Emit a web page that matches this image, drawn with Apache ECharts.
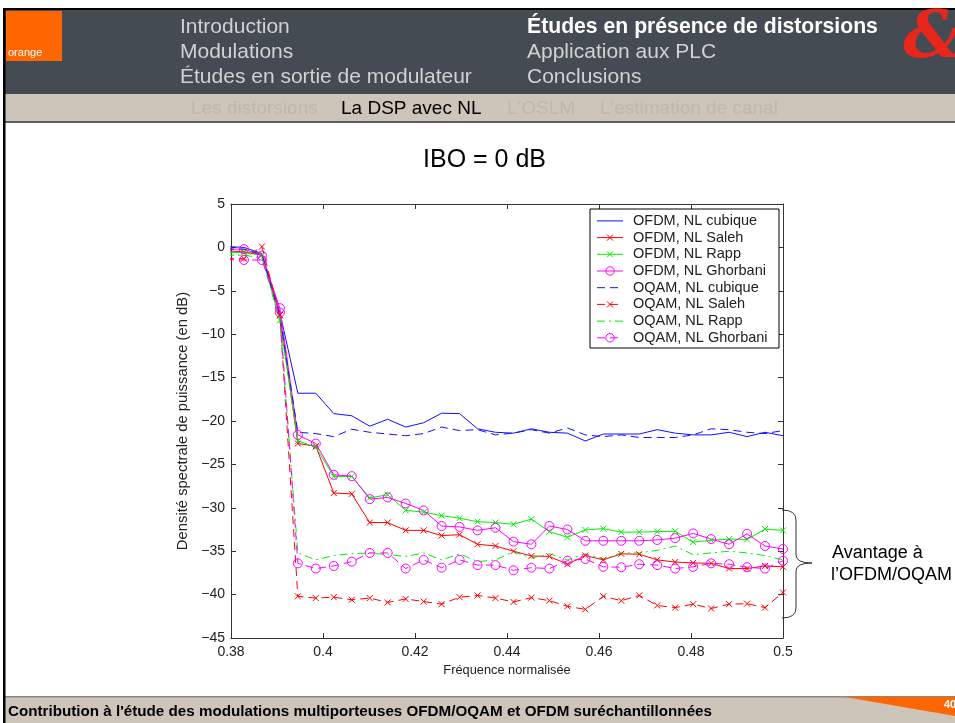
<!DOCTYPE html>
<html>
<head>
<meta charset="utf-8">
<script src="https://cdn.jsdelivr.net/npm/echarts@6/dist/echarts.min.js"></script>
<style>html,body{margin:0;padding:0;background:#fff;overflow:hidden}#c{width:955px;height:723px}</style>
</head>
<body>
<div id="c"></div>
<script>
// ---------- data ----------
const freq = [0.37891, 0.38281, 0.38672, 0.39063, 0.39453, 0.39844, 0.40234, 0.40625,
  0.41016, 0.41406, 0.41797, 0.42188, 0.42578, 0.42969, 0.43359, 0.4375,
  0.44141, 0.44531, 0.44922, 0.45313, 0.45703, 0.46094, 0.46484, 0.46875,
  0.47266, 0.47656, 0.48047, 0.48438, 0.48828, 0.49219, 0.49609, 0.5];

const seriesNames = ['OFDM, NL cubique', 'OFDM, NL Saleh', 'OFDM, NL Rapp', 'OFDM, NL Ghorbani',
  'OQAM, NL cubique', 'OQAM, NL Saleh', 'OQAM, NL Rapp', 'OQAM, NL Ghorbani'];

const ofdmCubique = [0.1, 0.0, -0.7, -7.5, -16.8, -16.8, -19.15, -19.4, -20.6, -19.8, -20.7, -20.2, -19.1, -19.15,
  -20.9, -21.3, -21.4, -20.9, -21.3, -21.4, -22.3, -21.5, -21.5, -21.5, -21.0, -21.4, -21.6, -21.6, -21.3, -21.8, -21.3, -21.7];
const ofdmSaleh = [-0.4, -0.5, -0.9, -7.8, -22.6, -22.9, -28.3, -28.4, -31.7, -31.7, -32.6, -32.6, -33.2, -33.1,
  -34.2, -34.4, -35.0, -35.55, -35.6, -36.5, -35.5, -36.0, -35.3, -35.35, -36.0, -36.25, -36.35, -36.4, -37.0, -37.0, -36.7, -36.8];
const ofdmRapp = [-0.6, -0.6, -0.9, -8.4, -22.3, -23.0, -26.4, -26.4, -28.85, -28.5, -30.3, -30.5, -30.9, -31.2,
  -31.6, -31.7, -31.9, -31.3, -32.75, -33.4, -32.55, -32.4, -32.8, -32.8, -32.75, -32.7, -33.95, -33.75, -33.6, -33.65, -32.45, -32.6];
const ofdmGhorbani = [-0.2, -0.2, -0.95, -7.0, -21.6, -22.6, -26.2, -26.35, -29.0, -28.8, -29.5, -30.3, -32.1, -32.2,
  -32.6, -32.3, -33.9, -34.2, -32.1, -32.5, -33.8, -33.8, -33.8, -33.8, -33.7, -33.5, -32.95, -33.6, -34.2, -33.0, -34.4, -34.75];
const oqamCubique = [-0.2, -0.2, -0.8, -8.0, -21.3, -21.45, -21.8, -20.95, -21.3, -21.5, -21.7, -21.45, -20.7, -21.1,
  -21.0, -21.6, -21.4, -21.0, -21.4, -20.8, -21.6, -21.8, -21.6, -21.9, -21.9, -21.9, -21.6, -20.9, -21.0, -21.3, -21.45, -21.1];
const oqamSaleh = [-1.3, -1.3, 0.1, -7.8, -40.2, -40.4, -40.3, -40.6, -40.4, -40.9, -40.5, -40.8, -41.1, -40.3,
  -40.1, -40.4, -40.85, -40.35, -40.7, -41.35, -41.7, -40.2, -40.7, -40.1, -41.25, -41.5, -41.1, -41.6, -41.1, -41.05, -41.5, -39.75];
const oqamRapp = [-0.9, -0.9, -1.2, -8.5, -35.2, -36.0, -35.5, -35.3, -35.2, -35.4, -35.6, -35.2, -36.0, -35.3,
  -36.2, -36.0, -35.05, -35.8, -35.3, -36.0, -35.3, -35.9, -35.2, -35.2, -34.9, -34.4, -35.4, -35.2, -35.0, -35.2, -35.5, -36.0];
const oqamGhorbani = [-1.4, -1.45, -1.45, -7.5, -36.4, -37.0, -36.7, -36.2, -35.2, -35.2, -37.0, -36.0, -36.9, -36.0,
  -36.6, -36.6, -37.2, -36.9, -37.0, -36.1, -35.9, -36.8, -36.85, -36.5, -36.6, -37.0, -36.8, -36.4, -36.5, -36.85, -37.0, -36.1];

const xTicks = [0.38, 0.4, 0.42, 0.44, 0.46, 0.48, 0.5];
const yTicks = [-45, -40, -35, -30, -25, -20, -15, -10, -5, 0, 5];

const headerLeft = ['Introduction', 'Modulations', 'Études en sortie de modulateur'];
const headerRight = ['Études en présence de distorsions', 'Application aux PLC', 'Conclusions'];
const navItems = ["Les distorsions", "La DSP avec NL", "L'OSLM", "L'estimation de canal"];

// ---------- chart ----------
const FONT = '"Liberation Sans", Arial, sans-serif';
const X_SYM = 'path://M0,0L10,10M10,0L0,10';
const seriesData = [ofdmCubique, ofdmSaleh, ofdmRapp, ofdmGhorbani, oqamCubique, oqamSaleh, oqamRapp, oqamGhorbani];
const GREEN = '#00f000';
const BLUE = '#1010ff';
const styles = [
  {color: BLUE, dash: 'solid', mark: 'none'},
  {color: '#ff0000', dash: 'solid', mark: 'x'},
  {color: GREEN, dash: 'solid', mark: 'x'},
  {color: '#ff00ff', dash: 'solid', mark: 'o'},
  {color: BLUE, dash: [8, 5], mark: 'none'},
  {color: '#ff0000', dash: [8, 5], mark: 'x'},
  {color: GREEN, dash: [8, 4, 2, 4], mark: 'none'},
  {color: '#ff00ff', dash: [8, 5], mark: 'o'}
];
const symOf = m => (m === 'x' ? X_SYM : m === 'o' ? 'circle' : 'none');
const sizeOf = m => (m === 'x' ? 6 : m === 'o' ? 9 : 0);

const series = seriesNames.map((name, i) => {
  const s = styles[i];
  return {
    type: 'line', name: name,
    data: freq.map((f, j) => [f, seriesData[i][j]]),
    symbol: symOf(s.mark), symbolSize: sizeOf(s.mark), showSymbol: s.mark !== 'none', showAllSymbol: true,
    lineStyle: {color: s.color, width: 1, type: s.dash},
    itemStyle: {color: 'rgba(0,0,0,0)', borderColor: s.color, borderWidth: 1},
    clip: true, animation: false, silent: true, emphasis: {disabled: true}
  };
});

const fmtX = v => String(+(+v).toFixed(2));
const fmtY = v => (v < 0 ? '\u2212' + Math.abs(v) : String(v));

const axisCommon = {
  axisLine: {show: true, onZero: false, lineStyle: {color: '#333', width: 1}},
  axisTick: {show: true, inside: true, length: 5, lineStyle: {color: '#333'}},
  splitLine: {show: false}
};

const BR = {stroke: '#333', fill: null, lineWidth: 1};
const graphics = [
  // frame
  {type: 'rect', shape: {x: 5, y: 10, width: 950, height: 84}, style: {fill: '#444b52'}, z: 0},
  {type: 'rect', shape: {x: 5, y: 94, width: 950, height: 28}, style: {fill: '#cdc5b9'}, z: 0},
  {type: 'rect', shape: {x: 5, y: 121, width: 950, height: 2}, style: {fill: '#5c5c5c'}, z: 0},
  {type: 'rect', shape: {x: 3, y: 8, width: 952, height: 2}, style: {fill: '#000'}, z: 1},
  {type: 'rect', shape: {x: 3, y: 8, width: 2.5, height: 715}, style: {fill: '#000'}, z: 1},
  {type: 'rect', shape: {x: 5, y: 697, width: 950, height: 26}, style: {fill: '#cdc5b9'}, z: 0},
  {type: 'rect', shape: {x: 5, y: 696, width: 950, height: 1.5}, style: {fill: '#8c867e'}, z: 0},
  // orange logo
  {type: 'rect', shape: {x: 6, y: 11, width: 56, height: 50}, style: {fill: '#ff6600'}, z: 2},
  {type: 'text', x: 8, y: 53, style: {text: 'orange', fill: '#fff', fontSize: 11, fontFamily: FONT, align: 'left', verticalAlign: 'middle'}, z: 3},
  // & logo
  {type: 'text', x: 933, y: 40, style: {text: '&', fill: '#e8261c', fontSize: 66, fontStyle: 'italic', fontWeight: 'bold', fontFamily: '"DejaVu Serif", serif', align: 'center', verticalAlign: 'middle'}, z: 3},
  // footer triangle
  {type: 'polygon', shape: {points: [[845, 697], [955, 697], [955, 716]]}, style: {fill: '#ff6600'}, z: 2},
  {type: 'text', x: 944, y: 705, style: {text: '40', fill: '#fff', fontSize: 11, fontWeight: 'bold', fontFamily: FONT, align: 'left', verticalAlign: 'middle'}, z: 3},
  {type: 'text', x: 8, y: 712, style: {text: "Contribution à l'étude des modulations multiporteuses OFDM/OQAM et OFDM suréchantillonnées", fill: '#000', fontSize: 15.2, fontWeight: 'bold', fontFamily: FONT, align: 'left', verticalAlign: 'middle'}, z: 3},
  // chart title
  {type: 'text', x: 484.5, y: 160, style: {text: 'IBO = 0 dB', fill: '#000', fontSize: 25, fontFamily: FONT, align: 'center', verticalAlign: 'middle'}, z: 3},
  // brace
  {type: 'bezierCurve', shape: {x1: 782, y1: 510, cpx1: 796, cpy1: 510, x2: 796, y2: 520}, style: BR, z: 3},
  {type: 'line', shape: {x1: 796, y1: 520, x2: 796, y2: 555}, style: BR, z: 3},
  {type: 'bezierCurve', shape: {x1: 796, y1: 555, cpx1: 796, cpy1: 563, x2: 812, y2: 563}, style: BR, z: 3},
  {type: 'bezierCurve', shape: {x1: 812, y1: 563, cpx1: 796, cpy1: 563, x2: 796, y2: 571}, style: BR, z: 3},
  {type: 'line', shape: {x1: 796, y1: 571, x2: 796, y2: 608}, style: BR, z: 3},
  {type: 'bezierCurve', shape: {x1: 796, y1: 608, cpx1: 796, cpy1: 618, x2: 782, y2: 618}, style: BR, z: 3},
  // annotation
  {type: 'text', x: 832, y: 553, style: {text: 'Avantage à', fill: '#000', fontSize: 18, fontFamily: FONT, align: 'left', verticalAlign: 'middle'}, z: 3},
  {type: 'text', x: 831, y: 575, style: {text: 'l\u2019OFDM/OQAM', fill: '#000', fontSize: 18, fontFamily: FONT, align: 'left', verticalAlign: 'middle'}, z: 3}
];
headerLeft.forEach((t, i) => graphics.push({type: 'text', x: 180, y: 27 + 25 * i,
  style: {text: t, fill: '#d2d2d2', fontSize: 21, fontFamily: FONT, align: 'left', verticalAlign: 'middle'}, z: 3}));
headerRight.forEach((t, i) => graphics.push({type: 'text', x: 527, y: 27 + 25 * i,
  style: {text: t, fill: i === 0 ? '#ffffff' : '#d2d2d2', fontSize: i === 0 ? 21.2 : 21, fontWeight: i === 0 ? 'bold' : 'normal', fontFamily: FONT, align: 'left', verticalAlign: 'middle'}, z: 3}));
const navX = [191, 341, 507, 600];
navItems.forEach((t, i) => graphics.push({type: 'text', x: navX[i], y: 109,
  style: {text: t, fill: i === 1 ? '#000' : '#c0b7aa', fontSize: 19, fontFamily: FONT, align: 'left', verticalAlign: 'middle'}, z: 3}));

// legend box (drawn as graphics so each line style / marker matches)
const LG = {x: 590, y: 209, w: 189, h: 139, row0: 220.9, step: 16.7};
graphics.push({type: 'rect', shape: {x: LG.x, y: LG.y, width: LG.w, height: LG.h}, style: {fill: '#fff', stroke: '#000', lineWidth: 1}, z: 20});
seriesNames.forEach((n, i) => {
  const s = styles[i];
  const cy = LG.row0 + LG.step * i;
  graphics.push({type: 'line', shape: {x1: 597, y1: cy, x2: 623, y2: cy},
    style: {stroke: s.color, lineWidth: 1, lineDash: s.dash === 'solid' ? null : s.dash}, z: 21});
  if (s.mark === 'x') {
    graphics.push({type: 'line', shape: {x1: 607, y1: cy - 3, x2: 613, y2: cy + 3}, style: {stroke: s.color, lineWidth: 1}, z: 22});
    graphics.push({type: 'line', shape: {x1: 613, y1: cy - 3, x2: 607, y2: cy + 3}, style: {stroke: s.color, lineWidth: 1}, z: 22});
  } else if (s.mark === 'o') {
    graphics.push({type: 'circle', shape: {cx: 610, cy: cy, r: 4.2}, style: {fill: null, stroke: s.color, lineWidth: 1}, z: 22});
  }
  graphics.push({type: 'text', x: 633, y: cy, style: {text: n, fill: '#222', fontSize: 14.5, fontFamily: FONT, align: 'left', verticalAlign: 'middle'}, z: 22});
});

const chart = echarts.init(document.getElementById('c'), null, {renderer: 'canvas', width: 955, height: 723});
chart.setOption({
  animation: false,
  backgroundColor: '#ffffff',
  grid: {left: 231, right: 172, top: 204, bottom: 85, containLabel: false},
  xAxis: [
    Object.assign({}, axisCommon, {
      type: 'value', position: 'bottom', min: xTicks[0], max: xTicks[xTicks.length - 1], interval: 0.02,
      name: 'Fréquence normalisée', nameLocation: 'middle', nameGap: 17,
      nameTextStyle: {fontSize: 12.8, color: '#222', fontFamily: FONT},
      axisLabel: {formatter: fmtX, fontSize: 14, color: '#222', fontFamily: FONT, margin: 7}
    }),
    Object.assign({}, axisCommon, {
      type: 'value', position: 'top', min: xTicks[0], max: xTicks[xTicks.length - 1], interval: 0.02,
      axisLabel: {show: false}
    })
  ],
  yAxis: [
    Object.assign({}, axisCommon, {
      type: 'value', position: 'left', min: yTicks[0], max: yTicks[yTicks.length - 1], interval: 5,
      name: 'Densité spectrale de puissance (en dB)', nameLocation: 'middle', nameGap: 27,
      nameTextStyle: {fontSize: 14.8, color: '#222', fontFamily: FONT},
      axisLabel: {formatter: fmtY, fontSize: 14, color: '#222', fontFamily: FONT, margin: 6}
    }),
    Object.assign({}, axisCommon, {
      type: 'value', position: 'right', min: yTicks[0], max: yTicks[yTicks.length - 1], interval: 5,
      axisLabel: {show: false}
    })
  ],
  graphic: graphics,
  series: series
});
</script>
</body>
</html>
